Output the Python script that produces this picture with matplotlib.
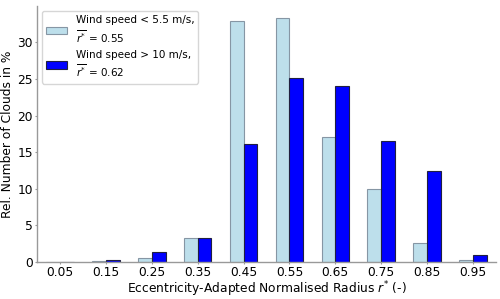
import matplotlib
matplotlib.use("Agg")
import matplotlib.pyplot as plt
import numpy as np

centers = [0.05, 0.15, 0.25, 0.35, 0.45, 0.55, 0.65, 0.75, 0.85, 0.95]
low_wind = [0.0, 0.19, 0.6, 3.2, 32.9, 33.3, 17.0, 10.0, 2.65, 0.2]
high_wind = [0.0, 0.23, 1.42, 3.33, 16.1, 25.1, 24.1, 16.5, 12.4, 0.92]
tick_labels = ["0.05", "0.15", "0.25", "0.35", "0.45", "0.55", "0.65", "0.75", "0.85", "0.95"]
label_low = "Wind speed < 5.5 m/s,\n$\\overline{r^{*}}$ = 0.55"
label_high = "Wind speed > 10 m/s,\n$\\overline{r^{*}}$ = 0.62"

fs = 8.8
spine_col = "#999999"
fig = plt.figure(figsize=(5, 2.99), dpi=100)
ax = fig.add_axes([0.074, 0.124, 0.918, 0.856])
w = 0.03
x = np.array(centers)
ax.bar(x, low_wind, width=-w, align="edge", color="lightblue", edgecolor="slategray", linewidth=0.8, label=label_low, alpha=0.8)
ax.bar(x, high_wind, width=w, align="edge", color="blue", edgecolor="#202040", linewidth=0.8, label=label_high)
ax.set_xlim(0, 1)
ax.set_xticks(centers)
ax.set_xticklabels(tick_labels)
ax.set_yticks([0, 5, 10, 15, 20, 25, 30])
ax.tick_params(labelsize=fs, length=1.5, pad=1.5, color=spine_col)
for s in ["left", "bottom"]:
    ax.spines[s].set_color(spine_col)
    ax.spines[s].set_linewidth(1.0)
ax.spines["top"].set_visible(False)
ax.spines["right"].set_visible(False)
ax.set_xlabel("Eccentricity-Adapted Normalised Radius $r^{*}$ (-)", fontsize=fs, labelpad=0)
ax.set_ylabel("Rel. Number of Clouds in %", fontsize=fs, labelpad=2)
ax.legend(loc="upper left", fontsize=7.5)
fig.savefig("out.png", dpi=100)
